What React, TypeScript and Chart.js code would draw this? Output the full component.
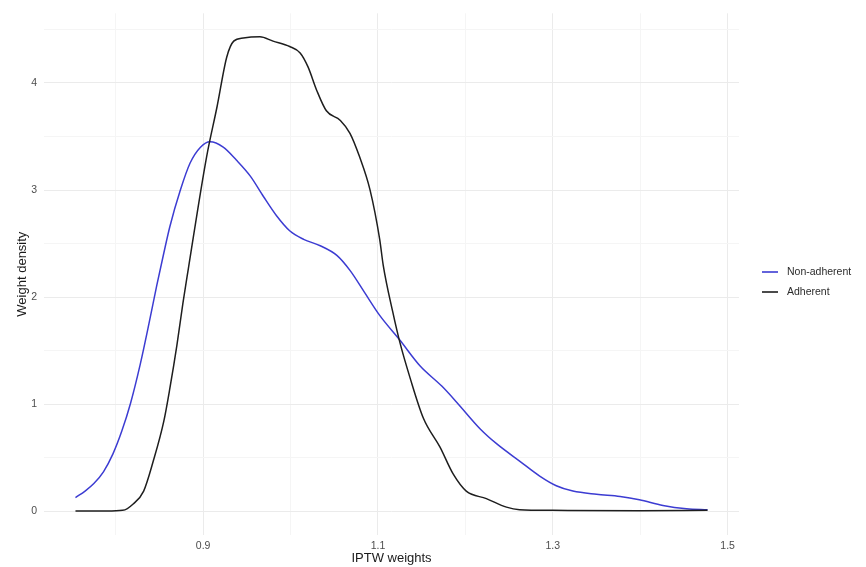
import React, { useEffect, useRef } from "react";
import { Chart, registerables } from "chart.js";

Chart.register(...registerables);

// IPTW weight values (x) and estimated density (y) for each group
const nonAdherentX = [
  0.754, 0.765, 0.775, 0.786, 0.797, 0.807, 0.817, 0.828, 0.838, 0.847, 0.855, 0.862, 0.874,
  0.885, 0.897, 0.908, 0.923, 0.938, 0.954, 0.969, 0.984, 0.999, 1.015, 1.034, 1.053, 1.068,
  1.085, 1.102, 1.125, 1.148, 1.173, 1.19, 1.217, 1.236, 1.262, 1.285, 1.304, 1.323, 1.35,
  1.377, 1.399, 1.426, 1.453, 1.477,
];
const nonAdherentY = [
  0.13, 0.19, 0.26, 0.37, 0.54, 0.75, 1.01, 1.37, 1.75, 2.11, 2.41, 2.66, 3.0,
  3.25, 3.4, 3.45, 3.4, 3.28, 3.13, 2.94, 2.76, 2.62, 2.54, 2.48, 2.39, 2.25,
  2.04, 1.83, 1.6, 1.36, 1.17, 1.02, 0.77, 0.63, 0.47, 0.33, 0.24, 0.19, 0.16,
  0.14, 0.11, 0.056, 0.025, 0.016,
];

const adherentX = [
  0.754, 0.79, 0.808, 0.82, 0.832, 0.843, 0.855, 0.862, 0.87, 0.877, 0.883, 0.904, 0.916,
  0.927, 0.935, 0.946, 0.965, 0.98, 0.999, 1.011, 1.02, 1.03, 1.041, 1.057, 1.068, 1.079,
  1.091, 1.102, 1.106, 1.117, 1.125, 1.137, 1.152, 1.171, 1.186, 1.201, 1.224, 1.247, 1.262,
  1.3, 1.4, 1.477,
];
const adherentY = [
  0.003, 0.003, 0.01, 0.07, 0.19, 0.47, 0.84, 1.15, 1.55, 1.95, 2.26, 3.31, 3.78,
  4.24, 4.39, 4.42, 4.43, 4.39, 4.34, 4.28, 4.15, 3.93, 3.74, 3.65, 3.53, 3.31,
  3.0, 2.54, 2.3, 1.86, 1.58, 1.24, 0.87, 0.6, 0.35, 0.19, 0.12, 0.04, 0.016,
  0.01, 0.006, 0.01,
];

const seriesLabels = ["Non-adherent", "Adherent"];
const seriesColors = ["#3c3cd2", "#1e1e1e"];

// Axis ticks: labelled majors and unlabelled minors
const xMajorTicks = [0.9, 1.1, 1.3, 1.5];
const xMinorTicks = [0.8, 1.0, 1.2, 1.4];
const yMajorTicks = [0, 1, 2, 3, 4];
const yMinorTicks = [0.5, 1.5, 2.5, 3.5, 4.5];

const xLimits = [0.718, 1.513];
const yLimits = [-0.22, 4.65];

const MAJOR_GRID = "#ebebeb";
const MINOR_GRID = "#f5f5f5";
const FONT = "'Liberation Sans', Arial, sans-serif";

const toPoints = (xs: number[], ys: number[]) => xs.map((x, i) => ({ x, y: ys[i] }));
const isIn = (list: number[], v: number) => list.some((t) => Math.abs(t - v) < 1e-6);

const buildTicks = (majors: number[], minors: number[]) =>
  [...majors, ...minors].sort((a, b) => a - b).map((value) => ({ value }));

// Legend drawn to the right of the panel, centred on the figure height
const sideLegend = {
  id: "sideLegend",
  afterDraw(chart: any) {
    const { ctx, chartArea, height } = chart;
    const cy = height / 2 - 1.5;
    const x0 = chartArea.right + 23;
    ctx.save();
    ctx.font = `10.5px ${FONT}`;
    ctx.textBaseline = "middle";
    ctx.textAlign = "left";
    chart.data.datasets.forEach((ds: any, i: number) => {
      const y = cy + (i === 0 ? -10 : 10);
      ctx.strokeStyle = ds.borderColor;
      ctx.lineWidth = 1.6;
      ctx.beginPath();
      ctx.moveTo(x0, y);
      ctx.lineTo(x0 + 16, y);
      ctx.stroke();
      ctx.fillStyle = "#2b2b2b";
      ctx.fillText(ds.label, x0 + 25, y);
    });
    ctx.restore();
  },
};

export default function App() {
  const canvasRef = useRef<HTMLCanvasElement>(null);

  useEffect(() => {
    if (!canvasRef.current) return;
    const chart = new Chart(canvasRef.current, {
      type: "line",
      data: {
        datasets: [
          {
            label: seriesLabels[0],
            data: toPoints(nonAdherentX, nonAdherentY),
            borderColor: seriesColors[0],
            borderWidth: 1.5,
            pointRadius: 0,
            cubicInterpolationMode: "monotone",
            order: 1,
          },
          {
            label: seriesLabels[1],
            data: toPoints(adherentX, adherentY),
            borderColor: seriesColors[1],
            borderWidth: 1.5,
            pointRadius: 0,
            cubicInterpolationMode: "monotone",
            order: 0,
          },
        ],
      },
      options: {
        responsive: false,
        animation: false,
        devicePixelRatio: 1,
        layout: { padding: { left: 0, right: 127, top: 9, bottom: 0 } },
        plugins: {
          legend: { display: false },
          tooltip: { enabled: false },
        },
        scales: {
          x: {
            type: "linear",
            min: xLimits[0],
            max: xLimits[1],
            border: { display: false },
            afterBuildTicks: (scale: any) => {
              scale.ticks = buildTicks(xMajorTicks, xMinorTicks);
            },
            afterFit: (scale: any) => {
              scale.height = 32;
            },
            grid: {
              drawTicks: false,
              color: (c: any) => (c.tick && isIn(xMajorTicks, c.tick.value) ? MAJOR_GRID : MINOR_GRID),
              lineWidth: 1,
            },
            ticks: {
              autoSkip: false,
              maxRotation: 0,
              padding: 5,
              color: "#4d4d4d",
              font: { family: FONT, size: 10.5 },
              callback: (v: any) => (isIn(xMajorTicks, Number(v)) ? Number(v).toFixed(1) : ""),
            },
            title: {
              display: true,
              text: "IPTW weights",
              color: "#1a1a1a",
              font: { family: FONT, size: 13 },
              padding: { top: 0, bottom: 1 },
            },
          },
          y: {
            type: "linear",
            min: yLimits[0],
            max: yLimits[1],
            border: { display: false },
            afterBuildTicks: (scale: any) => {
              scale.ticks = buildTicks(yMajorTicks, yMinorTicks);
            },
            afterFit: (scale: any) => {
              scale.width = 44;
            },
            grid: {
              drawTicks: false,
              color: (c: any) => (c.tick && isIn(yMajorTicks, c.tick.value) ? MAJOR_GRID : MINOR_GRID),
              lineWidth: 1,
            },
            ticks: {
              autoSkip: false,
              padding: 7,
              color: "#4d4d4d",
              font: { family: FONT, size: 10.5 },
              callback: (v: any) => (isIn(yMajorTicks, Number(v)) ? String(Math.round(Number(v))) : ""),
            },
            title: {
              display: true,
              text: "Weight density",
              color: "#1a1a1a",
              font: { family: FONT, size: 13 },
              padding: { top: 15, bottom: 0 },
            },
          },
        },
      },
      plugins: [sideLegend],
    } as any);
    return () => chart.destroy();
  }, []);

  return (
    <div style={{ position: "absolute", left: 0, top: 0, width: 866, height: 567, background: "#fff" }}>
      <canvas ref={canvasRef} width={866} height={567} style={{ display: "block" }} />
    </div>
  );
}
